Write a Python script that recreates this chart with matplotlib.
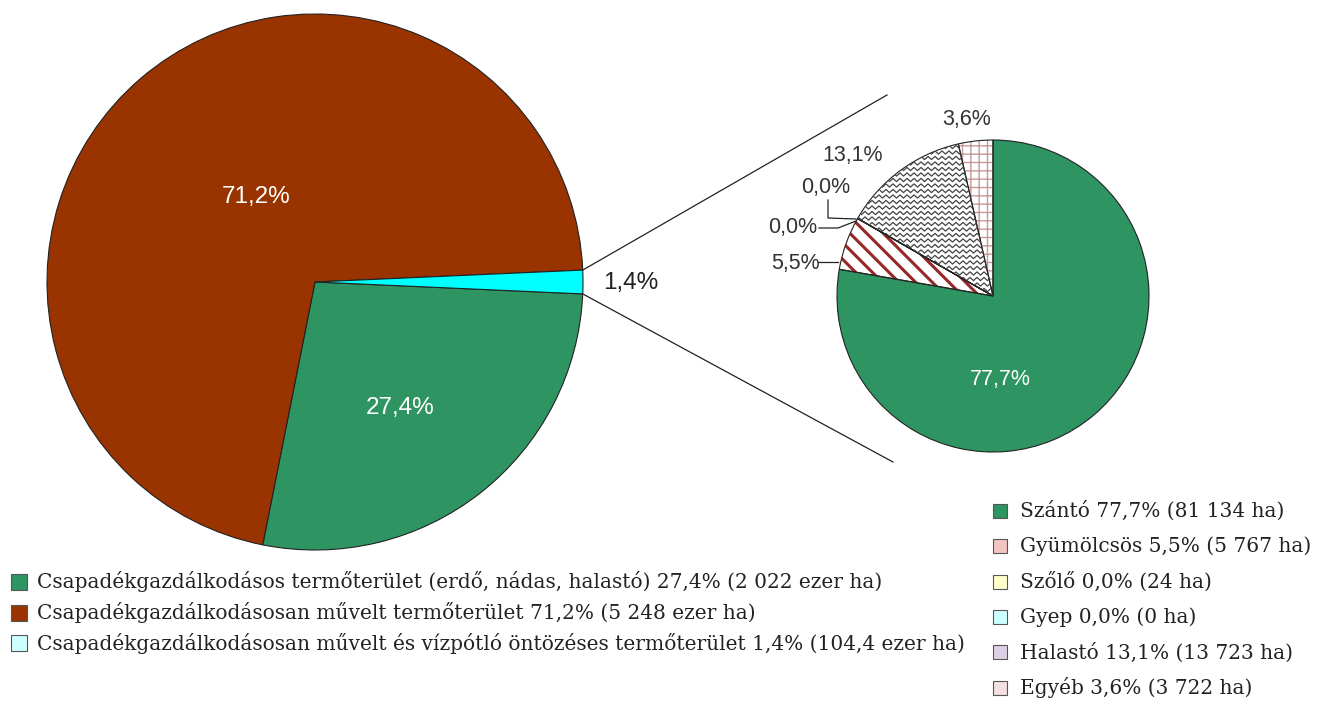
import numpy as np
import matplotlib
matplotlib.use("Agg")
import matplotlib.pyplot as plt
import matplotlib.patches as patches

# ── Data ─────────────────────────────────────────────────────────────────────
main_labels = [
    "Csapadékgazdálkodásos termőterület (erdő, nádas, halastó) 27,4% (2 022 ezer ha)",
    "Csapadékgazdálkodásosan művelt termőterület 71,2% (5 248 ezer ha)",
    "Csapadékgazdálkodásosan művelt és vízpótló öntözéses termőterület 1,4% (104,4 ezer ha)",
]
main_values = [2022, 5248, 104.4]          # ezer ha
main_pct_text = ["27,4%", "71,2%", "1,4%"]

sub_labels = [
    "Szántó 77,7% (81 134 ha)",
    "Gyümölcsös 5,5% (5 767 ha)",
    "Szőlő 0,0% (24 ha)",
    "Gyep 0,0% (0 ha)",
    "Halastó 13,1% (13 723 ha)",
    "Egyéb 3,6% (3 722 ha)",
]
sub_values = [81134, 5767, 24, 0, 13723, 3722]   # ha
sub_pct_text = ["77,7%", "5,5%", "0,0%", "0,0%", "13,1%", "3,6%"]

# ── Styles ───────────────────────────────────────────────────────────────────
main_colors = ["#2e9462", "#993300", "#00ffff"]
sub_face = ["#2e9462", "#ffffff", "#ffffcc", "#ccffff", "#ffffff", "#ffffff"]
sub_hatch = [None, "\\\\", None, None, None, "++"]
sub_hatch_col = ["#2e9462", "#962828", "#ffffcc", "#ccffff", "#555555", "#c79a9a"]
sub_legend_face = ["#2e9462", "#f2c4c4", "#ffffcc", "#ccffff", "#ddd0e4", "#f4e0e0"]

W, H = 1330, 706
def Y(y):  # pixel row -> data y
    return H - y

fig = plt.figure(figsize=(W / 100, H / 100), dpi=100)
ax = fig.add_axes([0, 0, 1, 1])

# ── Big pie ──────────────────────────────────────────────────────────────────
big_c, big_r = (315, Y(282)), 268
half = 180 * main_values[2] / sum(main_values)
wb, _ = ax.pie(main_values, colors=main_colors, startangle=-half, counterclock=False,
               center=big_c, radius=big_r,
               wedgeprops=dict(edgecolor="#222222", linewidth=0.8))

big_lbl_pos = [(400, 408), (256, 197), (631, 283)]
big_lbl_col = ["white", "white", "#222222"]
for t, (x, y), c in zip(main_pct_text, big_lbl_pos, big_lbl_col):
    ax.text(x, Y(y), t, color=c, fontsize=17.5, family="Liberation Sans",
            ha="center", va="center")

# ── Small pie ────────────────────────────────────────────────────────────────
sm_c, sm_r = (993, Y(296)), 156
plt.rcParams["hatch.linewidth"] = 2.2
ws, _ = ax.pie(sub_values, colors=sub_face, startangle=90, counterclock=False,
               center=sm_c, radius=sm_r, wedgeprops=dict(linewidth=0))
for w, h, hc in zip(ws, sub_hatch, sub_hatch_col):
    w.set_edgecolor(hc)
    if h:
        w.set_hatch(h)
        w.set_linewidth(0)
        if h == "++" and hasattr(w, "set_hatch_linewidth"):
            w.set_hatch_linewidth(1.0)
plt.rcParams["hatch.linewidth"] = 1.0

# wavy pattern for Halastó
hal = ws[4]
xs = np.arange(sm_c[0] - sm_r, sm_c[0] + 5, 3.5)
for yy in np.arange(sm_c[1] - 5, sm_c[1] + sm_r + 5, 5.5):
    ys = yy + np.where(np.arange(len(xs)) % 2 == 0, 1.6, -1.6)
    ln, = ax.plot(xs, ys, color="#444444", lw=0.9)
    ln.set_clip_path(hal)

# outlines
ax.pie(sub_values, colors=["none"] * len(sub_values), startangle=90, counterclock=False,
       center=sm_c, radius=sm_r, wedgeprops=dict(edgecolor="#222222", linewidth=0.8))

sm_lbl_pos = [(1000, 380), (795, 263), (793, 228), (826, 188), (853, 155), (967, 120)]
sm_lbl_col = ["white"] + ["#333333"] * 5
for t, (x, y), c in zip(sub_pct_text, sm_lbl_pos, sm_lbl_col):
    ax.text(x, Y(y), t, color=c, fontsize=15.5, family="Liberation Sans",
            ha="center", va="center")

# leader lines
leaders = [
    [(818, 262), (838, 262)],
    [(819, 228), (838, 228), (856, 221)],
    [(828, 200), (828, 218), (856, 219)],
]
for pts in leaders:
    px, py = zip(*pts)
    ax.plot(px, [Y(v) for v in py], color="#222222", lw=0.9)

# connector lines between pies
for a_deg, (ex, ey) in [(half, (887, 95)), (-half, (893, 462))]:
    sx = big_c[0] + big_r * np.cos(np.radians(a_deg))
    sy = big_c[1] + big_r * np.sin(np.radians(a_deg))
    ax.plot([sx, ex], [sy, Y(ey)], color="#222222", lw=0.9)

# ── Legends ──────────────────────────────────────────────────────────────────
leg_font = dict(family="DejaVu Serif", fontsize=14.5, color="#222222", va="center")
for i, (lab, col) in enumerate(zip(main_labels, main_colors)):
    yc = Y(582 + i * 30.5)
    face = col if i < 2 else "#ccffff"
    ax.add_patch(patches.Rectangle((11, yc - 8), 16, 16, facecolor=face,
                                   edgecolor="#555555", linewidth=0.8))
    ax.text(37, yc, lab, **leg_font)

for i, (lab, col) in enumerate(zip(sub_labels, sub_legend_face)):
    yc = Y(511 + i * 35.3)
    r = patches.Rectangle((993, yc - 7), 14, 14, facecolor=col,
                          edgecolor="#555555", linewidth=0.8)
    ax.add_patch(r)
    ax.text(1020, yc, lab, **leg_font)

ax.set_xlim(0, W)
ax.set_ylim(0, H)
ax.set_aspect("auto")
ax.axis("off")

fig.savefig("out.png", dpi=100, facecolor="white")
